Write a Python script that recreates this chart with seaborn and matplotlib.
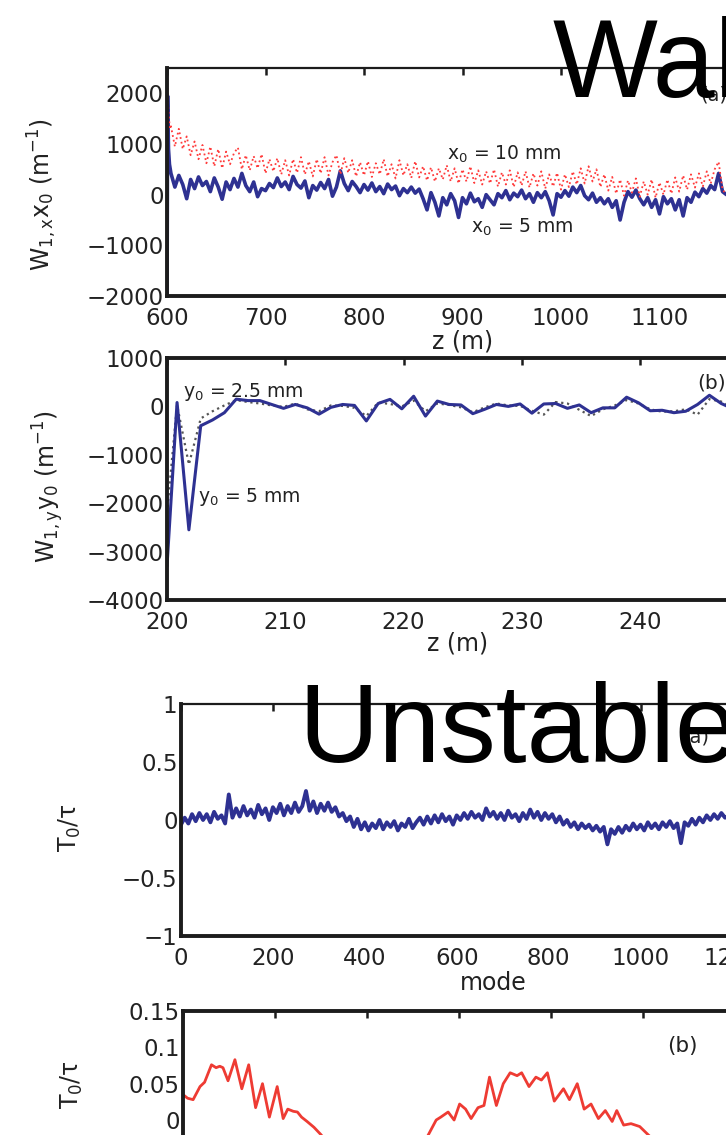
import numpy as np
import pandas as pd
import matplotlib
matplotlib.use("Agg")
import matplotlib.pyplot as plt
from matplotlib.ticker import FuncFormatter, FixedLocator
import seaborn as sns

# ---------------- data ----------------
# (a) horizontal dipole wake W_{1,x} x0 along z (m)
z_a_start = 604.0
z_a_step = 4.0
z_head_x5 = [600.0, 600.6, 601.5, 602.5]
w_head_x5 = [-2600, 1950, 900, 600]
w_x5 = [420, 150, 380, 200, -80, 300, 120, 350, 180, 260,
        60, 330, 150, -90, 250, 100, 320, 150, 420, 180,
        60, 250, -40, 120, 80, 220, 140, 330, 160, 250,
        100, 360, 200, 130, 270, -60, 180, 90, 240, 120,
        300, -30, 150, 470, 220, 80, 260, 160, 40, 200,
        90, 230, 60, 160, 20, 210, 100, 170, -20, 120,
        40, 150, 30, 110, -80, -300, 40, -150, -420, -60,
        -200, 20, -120, -450, -60, -180, 30, -140, -80, -250,
        0, -100, -200, 20, -60, 80, -100, 30, -40, 90,
        -80, 20, -150, 40, -60, 60, -120, -400, 20, -50,
        80, -30, 150, 40, 180, -20, -100, 30, -150, -60,
        -180, -80, -250, -120, -500, -150, 60, -50, 90, -80,
        -200, -60, -250, -100, -380, -40, -180, -80, -300, -100,
        -420, -60, -150, 50, -40, 120, 30, 180, 100, 420,
        60, 0]
z_head_x10 = [600.0, 600.3, 601.0, 602.0, 603.0]
w_head_x10 = [-2600, 2350, 1800, 1500, 1300]
w_x10 = [1350, 950, 1300, 900, 1150, 780, 1050, 700, 980, 620,
         950, 560, 900, 520, 850, 600, 820, 930, 500, 780,
         480, 760, 520, 800, 420, 700, 460, 720, 400, 680,
         380, 700, 430, 740, 400, 660, 360, 700, 420, 740,
         380, 640, 780, 400, 720, 430, 680, 360, 640, 380,
         660, 350, 620, 400, 700, 360, 600, 320, 680, 380,
         600, 330, 660, 340, 560, 280, 540, 260, 520, 300,
         580, 260, 520, 220, 500, 260, 560, 230, 480, 200,
         460, 220, 500, 160, 440, 200, 480, 150, 440, 180,
         460, 140, 420, 180, 460, 120, 400, 160, 430, 100,
         400, 150, 460, 200, 520, 220, 560, 260, 500, 150,
         400, 80, 350, 20, 300, -20, 280, 40, 320, -40,
         260, 0, 300, -60, 240, 0, 300, 20, 340, 60,
         380, 100, 400, 140, 420, 160, 460, 220, 500, 650,
         100, 0]

# (b) vertical dipole wake W_{1,y} y0 along z (m)
z_b = [200.0, 200.85, 201.85, 202.85, 203.85, 204.85, 205.85, 206.85, 207.85, 208.85,
       209.85, 210.85, 211.85, 212.85, 213.85, 214.85, 215.85, 216.85, 217.85, 218.85,
       219.85, 220.85, 221.85, 222.85, 223.85, 224.85, 225.85, 226.85, 227.85, 228.85,
       229.85, 230.85, 231.85, 232.85, 233.85, 234.85, 235.85, 236.85, 237.85, 238.85,
       239.85, 240.85, 241.85, 242.85, 243.85, 244.85, 245.85, 246.85, 247.85]
w_y5 = [-3300, 80, -2550, -400, -280, -130, 150, 120, 120, 40,
        -40, 40, -30, -160, -20, 40, 20, -300, 60, 145,
        -50, 210, -200, 110, 40, 30, -150, -60, 40, 0,
        50, -140, 50, 60, -40, 30, -130, -30, -30, 190,
        75, -90, -80, -130, -100, 40, 230, 60, -50]
w_y25 = [-2200, 30, -1200, -250, -100, 20, 130, 90, 60, 20,
         -10, 60, -60, -100, 20, 10, -30, -200, 80, 50,
         0, 120, -100, 60, 30, -20, -120, -20, 60, 20,
         10, -90, -170, 90, 60, -70, -200, -60, 20, 130,
         60, -60, -110, -100, -60, -170, 150, 100, -40]

# (a) unstable mode growth T0/tau versus mode number
mode_step = 8
t_mode = [-0.04, 0.02, -0.03, 0.05, -0.01, 0.06, 0.0, 0.05, -0.02, 0.07,
          0.01, 0.04, -0.03, 0.22, 0.02, 0.10, 0.03, 0.12, 0.04, 0.09,
          0.02, 0.13, 0.05, 0.10, 0.0, 0.11, 0.06, 0.14, 0.04, 0.12,
          0.06, 0.15, 0.07, 0.12, 0.25, 0.08, 0.16, 0.06, 0.14, 0.08,
          0.15, 0.07, 0.11, 0.03, 0.06, -0.01, 0.03, -0.06, 0.01, -0.08,
          -0.02, -0.09, -0.03, -0.07, 0.0, -0.08, -0.02, -0.06, -0.01, -0.09,
          -0.03, -0.06, 0.01, -0.07, -0.02, 0.02, -0.04, 0.03, -0.03, 0.04,
          -0.02, 0.05, -0.01, 0.03, -0.04, 0.04, 0.0, 0.06, 0.01, 0.07,
          0.02, 0.05, 0.0, 0.10, 0.03, 0.07, 0.01, 0.06, 0.0, 0.08,
          0.02, 0.05, -0.01, 0.06, 0.01, 0.09, 0.02, 0.07, 0.0, 0.06,
          0.01, 0.05, -0.02, 0.03, -0.04, 0.0, -0.06, -0.02, -0.08, -0.03,
          -0.07, -0.04, -0.09, -0.05, -0.10, -0.06, -0.21, -0.08, -0.12, -0.06,
          -0.11, -0.05, -0.09, -0.03, -0.08, -0.04, -0.09, -0.02, -0.07, -0.03,
          -0.08, -0.02, -0.06, -0.01, -0.07, -0.03, -0.20, -0.02, -0.05, 0.01,
          -0.04, 0.02, -0.02, 0.04, 0.0, 0.05, 0.01, 0.06, 0.02, 0.03]

# (b) smoothed T0/tau versus mode number
mode_b = [0, 10, 22, 37, 47, 62, 72, 80, 87, 98,
          113, 128, 143, 158, 173, 188, 205, 218, 228, 240,
          249, 258, 270, 285, 300, 320, 350, 400, 450, 500,
          530, 551, 561, 577, 590, 602, 615, 627, 642, 655,
          667, 682, 697, 712, 727, 737, 753, 768, 780, 793,
          808, 828, 841, 858, 873, 888, 904, 919, 934, 944,
          959, 975, 994, 1020, 1060, 1100, 1150, 1190]
t_mode_b = [0.035, 0.030, 0.028, 0.046, 0.052, 0.076, 0.072, 0.074, 0.072, 0.054,
            0.083, 0.043, 0.076, 0.017, 0.050, 0.004, 0.046, 0.002, 0.015, 0.012,
            0.011, 0.004, -0.002, -0.010, -0.020, -0.035, -0.055, -0.070, -0.065, -0.045,
            -0.025, 0.000, 0.004, 0.011, 0.000, 0.022, 0.015, 0.002, 0.017, 0.020,
            0.059, 0.020, 0.050, 0.065, 0.061, 0.065, 0.046, 0.059, 0.055, 0.065,
            0.026, 0.043, 0.028, 0.050, 0.015, 0.022, 0.002, 0.013, -0.002, 0.013,
            -0.007, -0.005, -0.009, -0.025, -0.050, -0.070, -0.060, -0.040]

# tick values
ticks_za = [600, 700, 800, 900, 1000, 1100]
ticks_wa = [-2000, -1000, 0, 1000, 2000]
ticks_zb = [200, 210, 220, 230, 240]
ticks_wb = [-4000, -3000, -2000, -1000, 0, 1000]
ticks_mode = [0, 200, 400, 600, 800, 1000, 1200]
ticks_ta = [-1, -0.5, 0, 0.5, 1]
ticks_tb = [0, 0.05, 0.1, 0.15]

# ---------------- tables ----------------
z_x5 = z_head_x5 + list(z_a_start + z_a_step * np.arange(len(w_x5)))
z_x10 = z_head_x10 + list(z_a_start + z_a_step * np.arange(len(w_x10)))
df_x5 = pd.DataFrame({"z": z_x5, "w": w_head_x5 + w_x5})
df_x10 = pd.DataFrame({"z": z_x10, "w": w_head_x10 + w_x10})
df_y5 = pd.DataFrame({"z": z_b, "w": w_y5})
df_y25 = pd.DataFrame({"z": z_b, "w": w_y25})
df_ta = pd.DataFrame({"mode": mode_step * np.arange(len(t_mode)), "t": t_mode})
df_tb = pd.DataFrame({"mode": mode_b, "t": t_mode_b})

# ---------------- style ----------------
sns.set_style("white")
plt.rcParams["font.family"] = ["DejaVu Sans"]
plt.rcParams["mathtext.default"] = "regular"
plt.rcParams["axes.unicode_minus"] = True

BLUE = "#2E3192"
RED = "#FF3B3B"
RED_B = "#EE3B33"
SPINE = "#1c1c1c"
TXT = "#222222"

W, H = 726, 1135
fig = plt.figure(figsize=(W / 100, H / 100), dpi=100)
fig.patch.set_facecolor("white")


def px_axes(left, top, bottom, width):
    return fig.add_axes([left / W, 1 - bottom / H, width / W, (bottom - top) / H])


def style(ax, top_lw):
    for side in ("left", "bottom"):
        ax.spines[side].set_linewidth(2.8)
        ax.spines[side].set_color(SPINE)
    ax.spines["top"].set_linewidth(top_lw)
    ax.spines["top"].set_color(SPINE)
    ax.spines["right"].set_visible(False)
    ax.tick_params(axis="both", direction="in", length=5, width=1.8,
                   color=SPINE, labelsize=16.5, labelcolor=TXT,
                   top=True, right=False)
    ax.tick_params(axis="x", pad=8)
    ax.tick_params(axis="y", pad=2.5)
    ax.set_facecolor("white")
    ax.grid(False)


fmt_g = FuncFormatter(lambda v, _: f"{v:g}".replace("-", "\u2212"))


def set_labels(ax, xl, xl_pos, yl, yl_pos):
    if xl:
        ax.set_xlabel(xl, fontsize=17, color=TXT)
        ax.xaxis.set_label_coords(*xl_pos)
        ax.xaxis.label.set_verticalalignment("center")
    else:
        ax.set_xlabel("")
    ax.set_ylabel(yl, fontsize=17, color=TXT)
    ax.yaxis.set_label_coords(*yl_pos)
    ax.yaxis.label.set_verticalalignment("center")


# ---- top block, panel (a) ----
ax1 = px_axes(167, 68, 296, 700 * 0.985)
sns.lineplot(data=df_x5, x="z", y="w", ax=ax1, color=BLUE, lw=2.6,
             estimator=None, sort=False)
sns.lineplot(data=df_x10, x="z", y="w", ax=ax1, color=RED, lw=1.3,
             linestyle=":", estimator=None, sort=False)
ax1.set_xlim(600, 1300)
ax1.set_ylim(-2000, 2500)
ax1.xaxis.set_major_locator(FixedLocator(ticks_za))
ax1.yaxis.set_major_locator(FixedLocator(ticks_wa))
style(ax1, 1.6)
set_labels(ax1, "z (m)", (0.429, -0.2), r"$W_{1,x}x_0$ (m$^{-1}$)", (-0.181, 0.443))
ax1.text(884, 685, r"$x_0$ = 10 mm", fontsize=13.5, color=TXT, ha="left", va="baseline")
ax1.text(909, -756, r"$x_0$ = 5 mm", fontsize=13.5, color=TXT, ha="left", va="baseline")
ax1.text(0.774, 0.88, "(a)", transform=ax1.transAxes, fontsize=14, color=TXT,
         ha="left", va="center")

# ---- top block, panel (b) ----
ax2 = px_axes(167, 358, 600, 50 * 11.83)
sns.lineplot(data=df_y25, x="z", y="w", ax=ax2, color="#555555", lw=1.6,
             linestyle=":", estimator=None, sort=False)
sns.lineplot(data=df_y5, x="z", y="w", ax=ax2, color=BLUE, lw=2.2,
             estimator=None, sort=False)
ax2.set_xlim(200, 250)
ax2.set_ylim(-4000, 1000)
ax2.xaxis.set_major_locator(FixedLocator(ticks_zb))
ax2.yaxis.set_major_locator(FixedLocator(ticks_wb))
style(ax2, 2.8)
set_labels(ax2, "z (m)", (0.492, -0.18), r"$W_{1,y}y_0$ (m$^{-1}$)", (-0.201, 0.467))
ax2.text(201.35, 192, r"$y_0$ = 2.5 mm", fontsize=13.5, color=TXT, ha="left", va="baseline")
ax2.text(202.65, -1977, r"$y_0$ = 5 mm", fontsize=13.5, color=TXT, ha="left", va="baseline")
ax2.text(0.896, 0.895, "(b)", transform=ax2.transAxes, fontsize=14.5, color=TXT,
         ha="left", va="center")

# ---- bottom block, panel (a) ----
ax3 = px_axes(181, 704, 936, 1400 * 0.4595)
sns.lineplot(data=df_ta, x="mode", y="t", ax=ax3, color=BLUE, lw=2.8,
             estimator=None, sort=False)
ax3.set_xlim(0, 1400)
ax3.set_ylim(-1, 1)
ax3.xaxis.set_major_locator(FixedLocator(ticks_mode))
ax3.yaxis.set_major_locator(FixedLocator(ticks_ta))
ax3.yaxis.set_major_formatter(fmt_g)
style(ax3, 1.6)
set_labels(ax3, "mode", (0.485, -0.2026), r"$T_0/\tau$", (-0.1725, 0.4655))
ax3.text(0.779, 0.857, "(a)", transform=ax3.transAxes, fontsize=14, color=TXT,
         ha="left", va="center")

# ---- bottom block, panel (b) ----
ax4 = px_axes(183, 1011, 1192.7, 1400 * 0.4595)
sns.lineplot(data=df_tb, x="mode", y="t", ax=ax4, color=RED_B, lw=2.0,
             estimator=None, sort=False)
ax4.set_xlim(0, 1400)
ax4.set_ylim(-0.1, 0.15)
ax4.xaxis.set_major_locator(FixedLocator(ticks_mode))
ax4.yaxis.set_major_locator(FixedLocator(ticks_tb))
ax4.yaxis.set_major_formatter(fmt_g)
style(ax4, 2.8)
ax4.tick_params(axis="x", bottom=False, labelbottom=False)
set_labels(ax4, None, None, r"$T_0/\tau$", (-0.1725, 0.593))
ax4.text(0.752, 0.81, "(b)", transform=ax4.transAxes, fontsize=15.5, color=TXT,
         ha="left", va="center")

# ---- slide headings ----
fig.text(553 / W, 1 - 97 / H, "Wal", fontsize=80, family="Liberation Sans",
         color="black", ha="left", va="baseline")
fig.text(298 / W, 1 - 762 / H, "Unstable", fontsize=80, family="Liberation Sans",
         color="black", ha="left", va="baseline")

fig.savefig("out.png", dpi=100, facecolor="white")
